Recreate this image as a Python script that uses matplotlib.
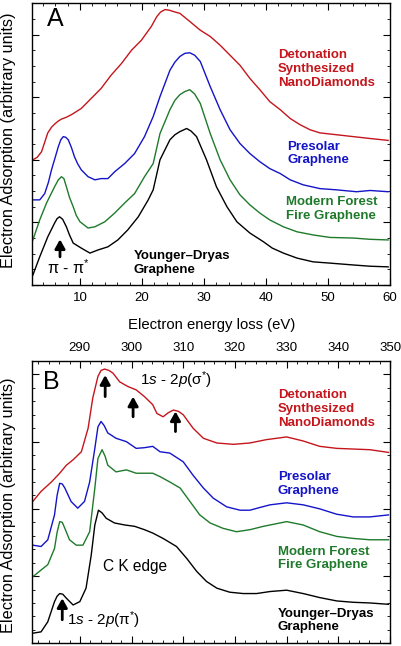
import matplotlib
matplotlib.use("Agg")
import matplotlib.pyplot as plt
from matplotlib.ticker import MultipleLocator

plt.rcParams['font.family'] = ['Liberation Sans', 'DejaVu Sans']
plt.rcParams['mathtext.fontset'] = 'custom'
plt.rcParams['mathtext.rm'] = 'Liberation Sans'
plt.rcParams['mathtext.it'] = 'Liberation Sans:italic'
plt.rcParams['mathtext.bf'] = 'Liberation Sans:bold'

# ---------------- Panel A: low-loss spectra (eV, arbitrary units) ----------------
a_x_nd = [2.4, 3.1, 3.8, 4.3, 4.8, 5.4, 5.9, 6.5, 7.0, 7.8, 8.6, 10.2, 11.8, 13.4, 15.0, 16.7, 18.3,
          19.9, 21.5, 22.4, 23.0, 23.7, 24.4, 25.0, 26.1, 27.7, 29.4, 31.0, 32.6, 34.2, 35.8,
          37.4, 39.0, 40.6, 42.3, 43.9, 45.5, 47.1, 48.7, 51.4, 54.1, 56.8, 59.7]
a_y_nd = [2.00, 2.04, 2.13, 2.28, 2.43, 2.52, 2.57, 2.62, 2.65, 2.68, 2.72, 2.82, 2.98, 3.14, 3.35,
          3.54, 3.75, 3.91, 4.13, 4.29, 4.36, 4.40, 4.39, 4.37, 4.34, 4.21, 4.07, 3.97, 3.83,
          3.67, 3.51, 3.30, 3.12, 2.93, 2.80, 2.66, 2.56, 2.48, 2.43, 2.40, 2.37, 2.34, 2.31]

a_x_ps = [2.4, 3.5, 4.3, 4.9, 5.4, 6.0, 6.5, 6.9, 7.3, 7.7, 8.1, 8.6, 9.1, 9.6, 10.2, 11.3, 12.4,
          13.4, 14.5, 15.6, 17.2, 18.8, 20.4, 21.8, 22.9, 24.5, 25.3, 26.1, 26.9, 27.7, 28.5,
          29.4, 31.0, 32.6, 34.2, 35.8, 37.4, 39.0, 40.6, 42.3, 43.9, 46.0, 48.7, 51.4, 54.6,
          56.8, 59.7]
a_y_ps = [1.36, 1.36, 1.46, 1.64, 1.84, 2.04, 2.21, 2.32, 2.37, 2.36, 2.32, 2.20, 2.05, 1.94, 1.84,
          1.73, 1.68, 1.70, 1.70, 1.81, 1.94, 2.10, 2.37, 2.69, 3.01, 3.43, 3.56, 3.65, 3.70,
          3.71, 3.67, 3.57, 3.17, 2.80, 2.48, 2.26, 2.10, 1.97, 1.86, 1.78, 1.68, 1.60, 1.54,
          1.52, 1.49, 1.51, 1.49]

a_x_mf = [2.4, 3.5, 4.6, 5.9, 6.5, 7.0, 7.4, 7.8, 8.3, 8.9, 9.4, 10.0, 11.3, 12.4, 14.0, 15.6, 17.2,
          18.8, 20.4, 21.8, 22.9, 24.5, 25.3, 26.1, 26.9, 27.7, 28.5, 29.4, 31.0, 32.6, 34.2,
          35.8, 37.4, 39.0, 40.6, 42.8, 45.0, 47.6, 50.3, 54.1, 56.8, 59.7]
a_y_mf = [0.72, 1.04, 1.31, 1.57, 1.68, 1.73, 1.70, 1.57, 1.40, 1.25, 1.11, 1.01, 0.91, 0.93, 1.01,
          1.15, 1.31, 1.46, 1.73, 1.94, 2.42, 2.80, 2.95, 3.04, 3.09, 3.12, 3.05, 2.90, 2.42,
          2.00, 1.68, 1.44, 1.28, 1.15, 1.04, 0.93, 0.85, 0.80, 0.76, 0.75, 0.73, 0.72]

a_x_yd = [2.4, 3.5, 4.8, 5.9, 6.3, 6.7, 7.2, 7.8, 8.3, 8.9, 10.2, 11.6, 12.9, 14.5, 16.1, 17.7,
          19.4, 21.0, 21.8, 22.9, 24.5, 25.3, 26.1, 27.2, 27.9, 28.8, 30.4, 32.0, 33.7, 35.3,
          37.4, 39.6, 41.0, 42.8, 45.0, 47.6, 50.3, 54.1, 56.8, 59.7]
a_y_yd = [0.16, 0.45, 0.77, 0.99, 1.06, 1.09, 1.05, 0.93, 0.80, 0.67, 0.59, 0.51, 0.56, 0.61, 0.72,
          0.88, 1.09, 1.36, 1.52, 2.00, 2.32, 2.40, 2.45, 2.50, 2.46, 2.37, 2.00, 1.57, 1.25,
          1.01, 0.83, 0.69, 0.59, 0.51, 0.43, 0.37, 0.35, 0.32, 0.30, 0.29]

# ---------------- Panel B: carbon K edge (eV, arbitrary units) ----------------
b_x_nd = [280.9, 282.5, 284.5, 286.1, 287.4, 288.7, 290.3, 291.6, 292.5, 293.5, 294.1, 294.8,
          295.6, 296.4, 297.7, 299.3, 300.9, 302.5, 304.1, 304.9, 306.1, 307.1, 308.1, 309.1,
          310.0, 311.9, 313.9, 316.5, 319.7, 322.9, 326.1, 330.0, 333.2, 336.4, 339.7, 342.9,
          346.1, 349.7]
b_y_nd = [2.11, 2.26, 2.40, 2.53, 2.65, 2.73, 2.85, 3.20, 3.65, 3.97, 4.06, 4.08,
          4.06, 4.02, 3.89, 3.82, 3.77, 3.67, 3.55, 3.42, 3.37, 3.43, 3.47, 3.45,
          3.40, 3.20, 3.05, 2.98, 2.96, 2.98, 3.03, 3.07, 3.01, 2.93, 2.90, 2.89,
          2.88, 2.84]

b_x_ps = [280.9, 282.5, 283.8, 285.1, 285.6, 286.1, 286.6, 287.1, 288.3, 289.6, 290.9, 291.9,
          292.9, 293.5, 294.1, 294.7, 295.4, 297.0, 299.0, 300.9, 302.5, 304.1, 305.5, 307.4,
          310.0, 311.9, 313.9, 315.8, 318.4, 321.0, 322.9, 324.8, 326.8, 330.0, 333.2, 336.4,
          339.7, 342.9, 346.1, 349.7]
b_y_ps = [1.46, 1.44, 1.54, 1.91, 2.20, 2.38, 2.37, 2.31, 2.11, 2.01, 2.11, 2.40,
          2.90, 3.22, 3.30, 3.24, 3.13, 3.05, 3.00, 2.90, 2.91, 2.93, 2.85, 2.83,
          2.70, 2.50, 2.31, 2.16, 2.03, 1.98, 1.98, 2.02, 2.06, 2.09, 2.06, 2.00,
          1.92, 1.88, 1.88, 1.91]

b_x_mf = [280.9, 282.5, 283.8, 285.1, 285.6, 286.1, 286.6, 287.1, 288.0, 289.3, 290.6, 291.9,
          292.9, 293.5, 294.3, 294.9, 295.4, 297.0, 299.0, 300.9, 302.5, 304.1, 305.5, 307.4,
          309.4, 311.3, 313.2, 315.2, 317.7, 320.3, 322.9, 325.5, 330.0, 333.2, 336.4, 339.7,
          342.9, 346.1, 349.7]
b_y_mf = [0.99, 1.09, 1.17, 1.41, 1.65, 1.81, 1.80, 1.71, 1.54, 1.46, 1.46, 1.66,
          2.31, 2.75, 2.88, 2.78, 2.65, 2.55, 2.58, 2.53, 2.53, 2.53, 2.48, 2.40,
          2.31, 2.11, 1.91, 1.79, 1.71, 1.66, 1.69, 1.74, 1.81, 1.76, 1.66, 1.59,
          1.56, 1.54, 1.54]

b_x_yd = [280.9, 282.5, 283.8, 285.1, 285.6, 286.1, 286.7, 287.4, 288.7, 290.0, 291.2, 292.2,
          292.9, 293.6, 294.3, 295.1, 296.7, 298.7, 300.6, 302.5, 304.1, 306.1, 308.7, 310.7,
          312.6, 314.5, 316.5, 319.0, 321.6, 324.2, 326.8, 330.0, 333.2, 336.4, 339.7, 342.9,
          346.1, 349.7]
b_y_yd = [0.15, 0.17, 0.32, 0.62, 0.70, 0.74, 0.73, 0.67, 0.57, 0.62, 0.82, 1.31,
          1.76, 1.98, 1.94, 1.86, 1.79, 1.76, 1.74, 1.69, 1.64, 1.56, 1.44, 1.26,
          1.07, 0.92, 0.82, 0.76, 0.74, 0.74, 0.77, 0.79, 0.74, 0.68, 0.63, 0.61,
          0.60, 0.58]

sample_names = ["Detonation\nSynthesized\nNanoDiamonds", "Presolar\nGraphene",
                "Modern Forest\nFire Graphene", "Younger\u2013Dryas\nGraphene"]
colors = ["#c4161c", "#1414c8", "#1f7a2c", "#000000"]

fig = plt.figure(figsize=(4.02, 6.46), dpi=100)
axA = fig.add_axes([0.0803, 0.5588, 0.8899, 0.4361])
axB = fig.add_axes([0.0803, 0.0042, 0.8899, 0.4370])

lw = 1.0
for xs, ys, c in zip([a_x_nd, a_x_ps, a_x_mf, a_x_yd], [a_y_nd, a_y_ps, a_y_mf, a_y_yd], colors):
    axA.plot(xs, ys, color=c, lw=lw, solid_joinstyle='round')
for xs, ys, c in zip([b_x_nd, b_x_ps, b_x_mf, b_x_yd], [b_y_nd, b_y_ps, b_y_mf, b_y_yd], colors):
    axB.plot(xs, ys, color=c, lw=lw, solid_joinstyle='round')

# axes styling
for ax in (axA, axB):
    for s in ax.spines.values():
        s.set_linewidth(1.0)
    ax.tick_params(which='both', direction='in', top=True, right=True, left=True,
                   bottom=True, labelleft=False, labelsize=9.5, pad=5)
    ax.tick_params(which='major', length=5, width=0.8)
    ax.tick_params(which='minor', length=2.5, width=0.6)
    ax.set_ylabel("Electron Adsorption (arbitrary units)", fontsize=11.7)

axA.set_xlim(2.3, 60)
axA.set_ylim(0, 4.5)
axA.xaxis.set_major_locator(MultipleLocator(10))
axA.xaxis.set_minor_locator(MultipleLocator(2))
axA.yaxis.set_major_locator(MultipleLocator(1))
axA.yaxis.set_minor_locator(MultipleLocator(0.25))
axA.set_xlabel("Electron energy loss (eV)", fontsize=10.7, labelpad=10)
axA.yaxis.set_label_coords(-0.045, 0.515)

axB.set_xlim(280.8, 350)
axB.set_ylim(0, 4.2)
axB.xaxis.set_major_locator(MultipleLocator(10))
axB.xaxis.set_minor_locator(MultipleLocator(2))
axB.yaxis.set_major_locator(MultipleLocator(1))
axB.yaxis.set_minor_locator(MultipleLocator(0.2))
axB.tick_params(labelbottom=False, labeltop=True)
axB.yaxis.set_label_coords(-0.045, 0.49)

# panel letters
axA.text(6.0, 4.25, "A", fontsize=18, ha='center', va='center')
axB.text(284.5, 3.89, "B", fontsize=18, ha='center', va='center')

# sample labels
lab_kw = dict(fontsize=9.5, fontweight='bold', ha='left', va='center', linespacing=1.2)
a_lab_pos = [(41.9, 3.45), (43.4, 2.10), (43.2, 1.21), (18.7, 0.35)]
for (x, y), name, c in zip(a_lab_pos, sample_names, colors):
    axA.text(x, y, name, color=c, **lab_kw)
b_lab_pos = [(328.3, 3.49), (328.3, 2.37), (328.3, 1.26), (328.3, 0.34)]
for (x, y), name, c in zip(b_lab_pos, sample_names, colors):
    axB.text(x, y, name, color=c, **lab_kw)

arrow_kw = dict(arrowstyle='-|>,head_width=0.25,head_length=0.45', lw=2.0, color='black',
                shrinkA=0, shrinkB=0, mutation_scale=12)

# panel A annotations
axA.annotate("", xy=(6.77, 0.73), xytext=(6.77, 0.45), arrowprops=arrow_kw)
axA.text(8.1, 0.27, "π - π$^{*}$", fontsize=11.5, ha='center', va='center')

# panel B annotations
for x, y0, y1 in [(294.9, 3.67, 3.99), (300.3, 3.37, 3.67), (308.5, 3.15, 3.45)]:
    axB.annotate("", xy=(x, y1), xytext=(x, y0), arrowprops=arrow_kw)
axB.text(301.6, 3.92, "1$\\it{s}$ - 2$\\it{p}$(σ$^{*}$)", fontsize=11, ha='left', va='center')
axB.annotate("", xy=(286.6, 0.67), xytext=(286.6, 0.35), arrowprops=arrow_kw)
axB.text(287.5, 0.35, "1$\\it{s}$ - 2$\\it{p}$(π$^{*}$)", fontsize=11, ha='left', va='center')
axB.text(294.5, 1.14, "C K edge", fontsize=11.2, ha='left', va='center')

fig.savefig("out.png", dpi=100)
